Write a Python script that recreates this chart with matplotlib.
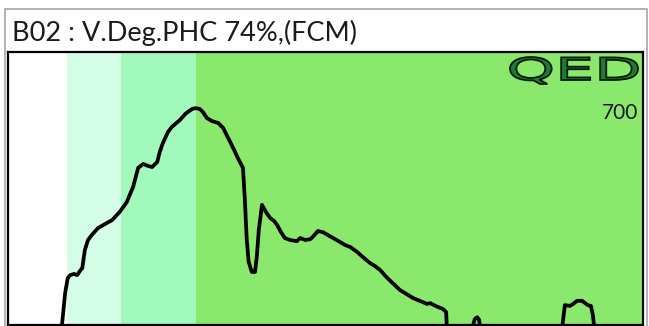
import matplotlib
matplotlib.use("Agg")
import matplotlib.pyplot as plt
from matplotlib.patches import Rectangle, PathPatch
from matplotlib.textpath import TextPath
from matplotlib.font_manager import FontProperties
from matplotlib.transforms import Affine2D

# Histogram trace (channel, counts); values under the lower limit fall off the view
channels = [85, 85, 90, 94, 98, 104, 109, 113, 117, 121, 126, 132, 142, 153, 164, 176,
            187, 197, 205, 213, 220, 227, 235, 239, 244, 252, 258, 271, 279, 283, 290,
            295, 302, 307, 313, 321, 331, 339, 345, 350, 356, 362, 370, 373, 376, 379,
            384, 389, 392, 395, 400, 406, 413, 419, 424, 430, 436, 444, 455, 460, 468,
            476, 480, 488, 496, 512, 531, 539, 550, 559, 570, 578, 586, 597, 617, 638,
            660, 665, 673, 685, 690, 691, 695, 729, 732, 735, 739, 742, 743, 747, 869,
            873, 876, 877, 885, 890, 896, 904, 909, 913, 918, 921, 923, 926, 1000]
counts = [10, 50, 132, 170, 178, 181, 178, 188, 196, 242, 268, 281, 299, 309, 319, 340,
          365, 404, 453, 463, 458, 455, 468, 494, 517, 545, 558, 576, 591, 596, 604,
          606, 604, 596, 581, 573, 568, 555, 535, 519, 499, 478, 453, 371, 268, 212,
          186, 186, 229, 294, 358, 340, 324, 317, 306, 288, 273, 268, 265, 273, 268,
          270, 276, 291, 288, 273, 255, 250, 237, 224, 209, 201, 191, 171, 140, 119,
          104, 106, 99, 91, 83, 47, 10, 10, 47, 65, 70, 63, 47, 10, 10,
          47, 88, 101, 99, 104, 112, 112, 106, 101, 99, 76, 47, 10, 10]

# Gate regions along the channel axis
gate_edges = [0, 93, 178, 296, 1000]
gate_colors = ["#ffffff", "#d4fde8", "#a1f9bb", "#8ae86c"]

title_text = "B02 : V.Deg.PHC 74%,(FCM)"
max_label = "700"

W, H = 649, 326
fig = plt.figure(figsize=(W / 100, H / 100), dpi=100)
fig.patch.set_facecolor("white")

# outer panel frame
fig.patches.append(Rectangle((5 / W, -0.1), 642 / W, (326 - 9) / H + 0.1,
                             transform=fig.transFigure, facecolor="white",
                             edgecolor="#a6a6a6", linewidth=1.2, zorder=-5))

# panel title, sized to span its header width
title = fig.text(12 / W, 1 - 33 / H, title_text, fontsize=15, family="Lato",
                 color="#1a1a1a", va="center", ha="left")
renderer = fig.canvas.get_renderer()
tw = title.get_window_extent(renderer).width
title.set_fontsize(15 * 344 / tw)

ax = fig.add_axes([8 / W, 1 / H, 635 / W, 273 / H])
ax.set_zorder(1)
for lo, hi, c in zip(gate_edges[:-1], gate_edges[1:], gate_colors):
    ax.axvspan(lo, hi, color=c, linewidth=0, zorder=0)
ax.plot(channels, counts, color="black", linewidth=2.7, solid_joinstyle="round",
        solid_capstyle="round", zorder=3)
ax.set_xlim(0, 1000)
ax.set_ylim(50, 750)
ax.set_xticks([])
ax.set_yticks([])
for s in ax.spines.values():
    s.set_linewidth(1.6)
    s.set_color("black")

ax.text(0.993, 0.775, max_label, transform=ax.transAxes, ha="right", va="center",
        fontsize=15, family="Lato", color="#1a1a1a")

# QED mark, stretched horizontally into its box
tp = TextPath((0, 0), "QED", prop=FontProperties(family="DejaVu Sans"), size=10)
bb = tp.get_extents()
x0, y0, x1, y1 = 510, 57, 638, 84
sx = (x1 - x0) / bb.width
sy = (y1 - y0) / bb.height
tr = (Affine2D().translate(-bb.x0, -bb.y0).scale(sx, sy)
      .translate(x0, H - y1).scale(1 / W, 1 / H) + fig.transFigure)
ax.add_patch(PathPatch(tp, transform=tr, facecolor="#1f7a35",
                       edgecolor="#0a1a0a", linewidth=1.3, zorder=5))

fig.savefig("out.png", dpi=100)
